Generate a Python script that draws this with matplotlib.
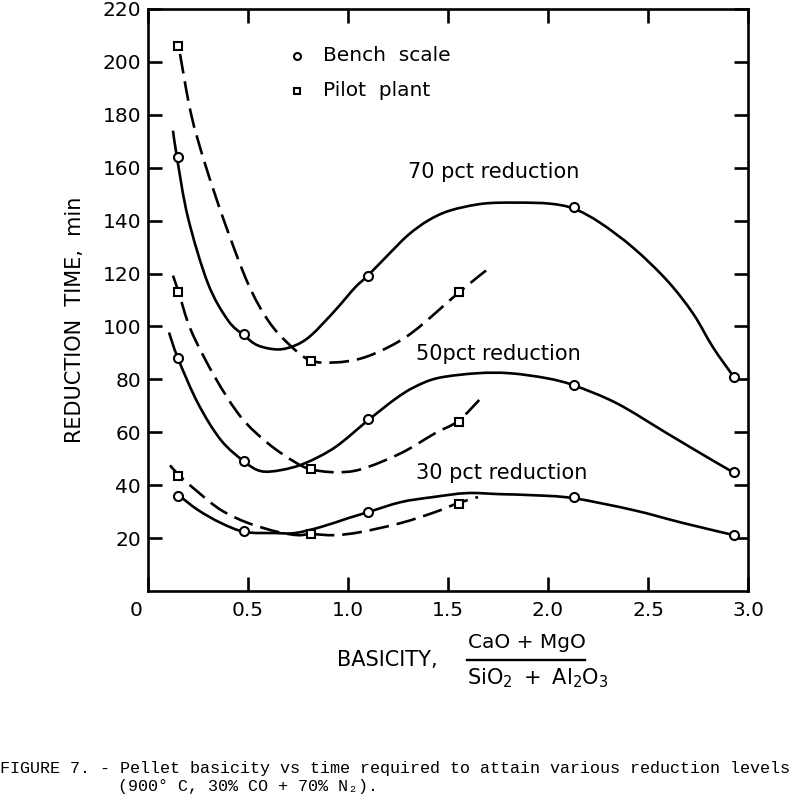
import matplotlib
matplotlib.use("Agg")
import matplotlib.pyplot as plt
from matplotlib.path import Path
from matplotlib.patches import PathPatch
from matplotlib.transforms import ScaledTranslation

# ---- data ----
bench_x = [0.15, 0.48, 1.10, 2.13, 2.93]
bench70 = [164, 97, 119, 145, 81]
bench50 = [88, 49, 65, 78, 45]
bench30 = [36, 22.5, 30, 35.5, 21]

pilot_x = [0.15, 0.815, 1.555]
pilot70 = [206, 87, 113]
pilot50 = [113, 46, 64]
pilot30 = [43.5, 21.5, 33]

# hand-drawn curves
b70_cx = [0.125, 0.145, 0.20, 0.30, 0.40, 0.48, 0.55, 0.65, 0.735, 0.815, 0.935, 1.035,
          1.095, 1.20, 1.30, 1.40, 1.51, 1.675, 1.845, 2.01, 2.13, 2.26, 2.425, 2.595,
          2.725, 2.825, 2.93]
b70_cy = [174.0, 163.8, 141.1, 116.2, 102.3, 96.6, 92.8, 91.3, 92.8, 96.6, 106.0, 114.7,
          118.9, 127.0, 134.5, 140.0, 143.8, 146.4, 146.8, 146.4, 144.5, 139.2, 129.8, 117.4,
          104.9, 92.1, 80.8]

p70_cx = [0.16, 0.215, 0.285, 0.385, 0.50, 0.60, 0.70, 0.81, 0.935, 1.065, 1.20, 1.335,
          1.56, 1.71]
p70_cy = [203.0, 180.4, 161.5, 138.9, 116.2, 102.3, 93.6, 87.2, 86.4, 87.9, 92.1, 98.5,
          113.2, 122.3]

b50_cx = [0.105, 0.15, 0.25, 0.365, 0.485, 0.565, 0.665, 0.785, 0.935, 1.10, 1.235, 1.33,
          1.45, 1.645, 1.81, 1.995, 2.13, 2.345, 2.595, 2.795, 2.925]
b50_cy = [97.7, 87.9, 70.9, 57.0, 48.7, 45.3, 45.7, 48.3, 54.3, 64.5, 72.5, 77.0,
          80.5, 82.3, 82.3, 80.4, 77.7, 70.9, 59.6, 50.6, 44.9]

p50_cx = [0.125, 0.155, 0.215, 0.335, 0.465, 0.60, 0.735, 0.815, 0.935, 1.065, 1.265,
          1.435, 1.55, 1.66]
p50_cy = [119.2, 112.5, 98.5, 80.8, 65.7, 55.8, 48.7, 46.0, 44.9, 46.0, 52.1,
          59.6, 64.2, 72.5]

b30_cx = [0.16, 0.25, 0.365, 0.485, 0.635, 0.735, 0.865, 1.0, 1.10, 1.265, 1.425, 1.595,
          1.76, 1.925, 2.125, 2.425, 2.675, 2.93]
b30_cy = [35.8, 30.6, 25.7, 22.3, 21.9, 21.9, 24.2, 27.5, 29.8, 33.6, 35.5, 37.0,
          36.6, 36.2, 35.1, 30.6, 25.7, 21.1]

p30_cx = [0.11, 0.16, 0.25, 0.365, 0.50, 0.65, 0.75, 0.815, 0.935, 1.065, 1.265, 1.435,
          1.55, 1.65]
p30_cy = [47.5, 43.4, 37.4, 30.6, 25.7, 22.3, 21.1, 21.5, 21.1, 22.3, 25.7, 29.8,
          33.2, 35.5]

x_ticks = [0, 0.5, 1.0, 1.5, 2.0, 2.5, 3.0]
x_ticklabels = ["0", "0.5", "1.0", "1.5", "2.0", "2.5", "3.0"]
y_ticks = [20, 40, 60, 80, 100, 120, 140, 160, 180, 200, 220]

curve_labels = ["70 pct reduction", "50pct reduction", "30 pct reduction"]


def smooth_path(xs, ys):
    """Cubic Bezier path through the read points (Catmull-Rom tangents)."""
    pts = list(zip(xs, ys))
    verts = [pts[0]]
    codes = [Path.MOVETO]
    n = len(pts)
    for i in range(n - 1):
        p0 = pts[i - 1] if i > 0 else pts[i]
        p1 = pts[i]
        p2 = pts[i + 1]
        p3 = pts[i + 2] if i + 2 < n else pts[i + 1]
        c1 = (p1[0] + (p2[0] - p0[0]) / 6.0, p1[1] + (p2[1] - p0[1]) / 6.0)
        c2 = (p2[0] - (p3[0] - p1[0]) / 6.0, p2[1] - (p3[1] - p1[1]) / 6.0)
        verts += [c1, c2, p2]
        codes += [Path.CURVE4] * 3
    return Path(verts, codes)


# ---- figure ----
fig = plt.figure(figsize=(8, 8.01), dpi=100)
ax = fig.add_axes([0.185, 0.2622, 0.75, 0.7266])

lw = 1.9
dash = (0, (7.5, 3.0))
for cx, cy in [(b70_cx, b70_cy), (b50_cx, b50_cy), (b30_cx, b30_cy)]:
    ax.add_patch(PathPatch(smooth_path(cx, cy), facecolor="none", edgecolor="black",
                           lw=lw, capstyle="butt", joinstyle="round"))
for cx, cy in [(p70_cx, p70_cy), (p50_cx, p50_cy), (p30_cx, p30_cy)]:
    ax.add_patch(PathPatch(smooth_path(cx, cy), facecolor="none", edgecolor="black",
                           lw=lw, linestyle=dash, capstyle="butt"))

mk = dict(color="black", markerfacecolor="white", markeredgecolor="black",
          markeredgewidth=1.5, linestyle="none", zorder=5)
for ys in [bench70, bench50, bench30]:
    ax.plot(bench_x, ys, marker="o", markersize=6.5, **mk)
for ys in [pilot70, pilot50, pilot30]:
    ax.plot(pilot_x, ys, marker="s", markersize=6, **mk)

# legend drawn as in the original
ax.plot([0.745], [202.3], marker="o", markersize=5, **mk)
ax.plot([0.745], [189.0], marker="s", markersize=5, **mk)
ax.text(0.875, 202.3, "Bench  scale", fontsize=14.5, va="center", ha="left")
ax.text(0.875, 189.0, "Pilot  plant", fontsize=14.5, va="center", ha="left")

# curve labels
ax.text(1.30, 158.5, curve_labels[0], fontsize=15, va="center", ha="left")
ax.text(1.34, 89.4, curve_labels[1], fontsize=15, va="center", ha="left")
ax.text(1.34, 44.5, curve_labels[2], fontsize=15, va="center", ha="left")

ax.set_xlim(0, 3.0)
ax.set_ylim(0, 220)
ax.set_xticks(x_ticks)
ax.set_xticklabels(x_ticklabels)
ax.set_yticks(y_ticks)
ax.tick_params(direction="in", length=10, width=1.9, top=True, right=True,
               labelsize=14.5, pad=7)
ax.tick_params(axis="y", pad=5)
for s in ax.spines.values():
    s.set_linewidth(1.9)

lab0 = ax.get_xticklabels()[0]
lab0.set_transform(lab0.get_transform() + ScaledTranslation(-12 / 100, 0, fig.dpi_scale_trans))

# axis labels
fig.text(75 / 800, 1 - 320 / 801, "REDUCTION  TIME,  min", rotation=90, fontsize=15,
         ha="center", va="center")
fig.text(337 / 800, 1 - 660 / 801, "BASICITY,", fontsize=15, ha="left", va="center")
fig.text(527 / 800, 1 - 643 / 801, "CaO + MgO", fontsize=14.5, ha="center", va="center")
fig.add_artist(plt.Line2D([467 / 800, 585 / 800], [1 - 660 / 801, 1 - 660 / 801],
                          color="black", lw=1.7, transform=fig.transFigure))
fig.text(538 / 800, 1 - 678 / 801, r"$\mathregular{SiO_2\ +\ Al_2O_3}$", fontsize=15,
         ha="center", va="center")

# caption
mono = ["Liberation Mono", "DejaVu Sans Mono"]
fig.text(0.0, 1 - 769 / 801,
         "FIGURE 7. - Pellet basicity vs time required to attain various reduction levels",
         fontsize=12.1, family=mono, ha="left", va="center")
fig.text(118 / 800, 1 - 786 / 801, "(900° C, 30% CO + 70% N₂).",
         fontsize=12.1, family=mono, ha="left", va="center")

fig.savefig("out.png", dpi=100)
